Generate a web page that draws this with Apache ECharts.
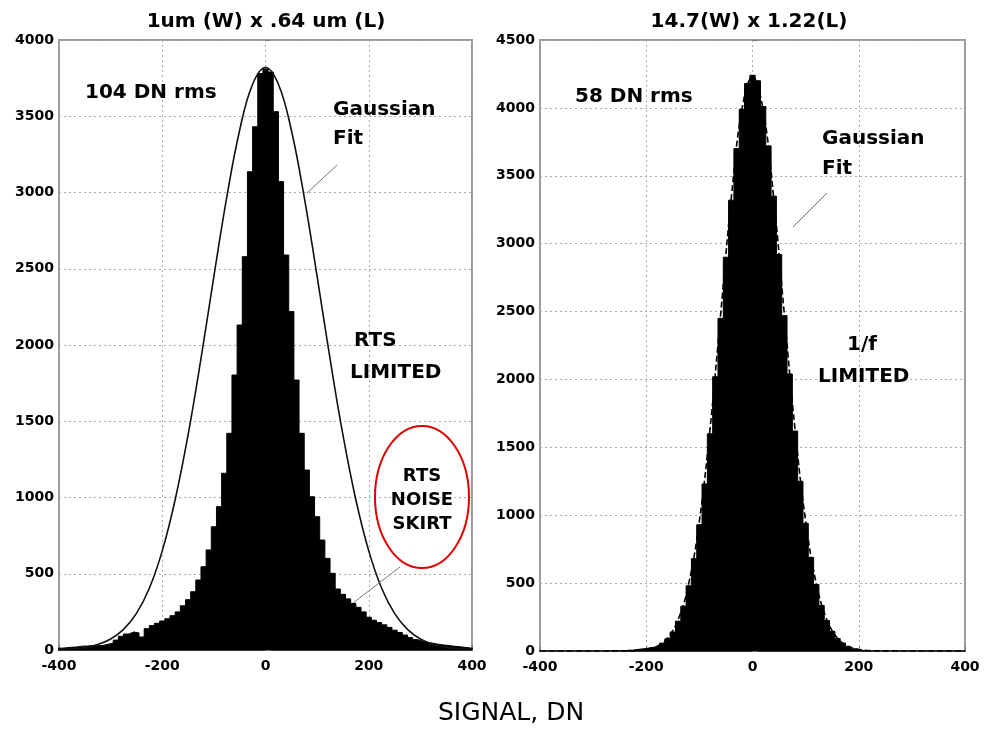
<!DOCTYPE html>
<html>
<head>
<meta charset="utf-8">
<script src="https://cdn.jsdelivr.net/npm/echarts@6/dist/echarts.min.js"></script>
<style>
  html, body { margin: 0; padding: 0; background: #fff; }
  #chart { width: 984px; height: 731px; }
</style>
</head>
<body>
<div id="chart"></div>
<script>
// bin centres (DN), 10 DN wide bins
const leftBins = [-400, -390, -380, -370, -360, -350, -340, -330, -320, -310, -300, -290, -280, -270, -260, -250, -240, -230, -220, -210, -200, -190, -180, -170, -160, -150, -140, -130, -120, -110, -100, -90, -80, -70, -60, -50, -40, -30, -20, -10, 0, 10, 20, 30, 40, 50, 60, 70, 80, 90, 100, 110, 120, 130, 140, 150, 160, 170, 180, 190, 200, 210, 220, 230, 240, 250, 260, 270, 280, 290, 300, 310, 320, 330, 340, 350, 360, 370, 380, 390, 400]
const leftCounts = [12, 15, 18, 20, 25, 26, 28, 28, 30, 38, 45, 65, 90, 105, 118, 112, 85, 140, 160, 175, 190, 205, 225, 250, 290, 330, 382, 459, 546, 656, 808, 940, 1159, 1421, 1803, 2131, 2579, 3136, 3431, 3780, 3810, 3790, 3530, 3071, 2590, 2219, 1770, 1421, 1180, 1005, 874, 721, 601, 503, 400, 365, 335, 305, 280, 250, 215, 195, 180, 165, 148, 130, 115, 98, 82, 68, 56, 50, 44, 38, 33, 30, 25, 22, 18, 14, 10]

const rightBins = [-230, -220, -210, -200, -190, -180, -170, -160, -150, -140, -130, -120, -110, -100, -90, -80, -70, -60, -50, -40, -30, -20, -10, 0, 10, 20, 30, 40, 50, 60, 70, 80, 90, 100, 110, 120, 130, 140, 150, 160, 170, 180, 190, 200, 210]
const rightCounts = [6, 12, 16, 22, 28, 40, 58, 90, 140, 220, 330, 480, 680, 930, 1230, 1600, 2020, 2450, 2900, 3320, 3700, 3990, 4180, 4240, 4200, 4010, 3720, 3350, 2920, 2470, 2040, 1620, 1250, 940, 690, 490, 335, 225, 145, 92, 58, 34, 16, 6, 0]

// gaussian fit curves
const leftFitX = [-400, -375, -350, -325, -300, -275, -250, -225, -200, -175, -150, -125, -100, -75, -50, -25, 0, 25, 50, 75, 100, 125, 150, 175, 200, 225, 250, 275, 300, 325, 350, 375, 400]
const leftFitY = [4, 8, 17, 36, 72, 135, 240, 405, 650, 985, 1410, 1910, 2450, 2970, 3410, 3710, 3820, 3710, 3410, 2970, 2450, 1910, 1410, 985, 650, 405, 240, 135, 72, 36, 17, 8, 4]
const rightFitX = [-400, -300, -260, -240, -220, -200, -180, -160, -140, -120, -100, -80, -60, -40, -20, 0, 20, 40, 60, 80, 100, 120, 140, 160, 180, 200, 220, 240, 260, 300, 400]
const rightFitY = [0, 0, 1, 1, 3, 11, 34, 94, 230, 497, 957, 1634, 2477, 3334, 3986, 4230, 3986, 3334, 2477, 1634, 957, 497, 230, 94, 34, 11, 3, 1, 1, 0, 0]

const xTicks = [-400, 400, 200]
const leftY = [0, 4000, 500]
const rightY = [0, 4500, 500]

const FONT = '"DejaVu Sans", sans-serif'

// histogram as step outline: each point is a bin's left edge
const stepData = (bins, counts) => {
  const half = (bins[1] - bins[0]) / 2
  const pts = bins.map((b, i) => [b - half, counts[i]])
  pts.push([bins[bins.length - 1] + half, counts[counts.length - 1]])
  return pts
}
const pairs = (xs, ys) => xs.map((x, i) => [x, ys[i]])

const labelStyle = {
  color: '#000',
  fontFamily: FONT,
  fontWeight: 'bold',
  fontSize: 14,
  showMinLabel: true,
  showMaxLabel: true,
  formatter: (v) => String(v)
}

const xAxisFor = (idx) => ({
  type: 'value',
  gridIndex: idx,
  min: xTicks[0],
  max: xTicks[1],
  interval: xTicks[2],
  axisLine: { show: true, onZero: false, lineStyle: { color: '#333', width: 2 } },
  axisTick: { inside: true, length: 5, lineStyle: { color: '#777' } },
  axisLabel: { ...labelStyle, margin: 9 },
  splitLine: { show: true, lineStyle: { color: '#aaa', type: [2, 3], width: 1 } }
})
const yAxisFor = (idx, range) => ({
  type: 'value',
  gridIndex: idx,
  min: range[0],
  max: range[1],
  interval: range[2],
  axisLine: { show: false },
  axisTick: { show: true, inside: true, length: 5, lineStyle: { color: '#777' } },
  axisLabel: { ...labelStyle, margin: 5 },
  splitLine: { show: true, lineStyle: { color: '#aaa', type: [2, 3], width: 1 } }
})

const txt = (text, x, y, size, align, weight) => ({
  type: 'text',
  x: x,
  y: y,
  z: 100,
  style: {
    text: text,
    font: (weight || 'bold') + ' ' + size + 'px ' + FONT,
    fill: '#000',
    textAlign: align || 'left',
    textVerticalAlign: 'middle'
  }
})
const lead = (x1, y1, x2, y2) => ({
  type: 'line',
  z: 100,
  shape: { x1, y1, x2, y2 },
  style: { stroke: '#777', lineWidth: 1 }
})

const chart = echarts.init(document.getElementById('chart'))
const option = {
  animation: false,
  backgroundColor: '#fff',
  grid: [
    { left: 59, top: 40, width: 413, height: 610, show: true, borderColor: '#9a9a9a', borderWidth: 2, outerBoundsMode: 'none' },
    { left: 540, top: 40, width: 425, height: 611, show: true, borderColor: '#9a9a9a', borderWidth: 2, outerBoundsMode: 'none' }
  ],
  xAxis: [xAxisFor(0), xAxisFor(1)],
  yAxis: [yAxisFor(0, leftY), yAxisFor(1, rightY)],
  series: [
    {
      type: 'line',
      xAxisIndex: 0,
      yAxisIndex: 0,
      step: 'end',
      symbol: 'none',
      data: stepData(leftBins, leftCounts),
      lineStyle: { color: '#000', width: 1 },
      areaStyle: { color: '#000', opacity: 1 }
    },
    {
      type: 'line',
      xAxisIndex: 0,
      yAxisIndex: 0,
      smooth: 0.4,
      symbol: 'none',
      data: pairs(leftFitX, leftFitY),
      lineStyle: { color: '#111', width: 1.6 }
    },
    {
      type: 'line',
      xAxisIndex: 1,
      yAxisIndex: 1,
      step: 'end',
      symbol: 'none',
      data: stepData(rightBins, rightCounts),
      lineStyle: { color: '#000', width: 1 },
      areaStyle: { color: '#000', opacity: 1 }
    },
    {
      type: 'line',
      xAxisIndex: 1,
      yAxisIndex: 1,
      smooth: 0.4,
      symbol: 'none',
      data: pairs(rightFitX, rightFitY),
      lineStyle: { color: '#000', width: 1.6, type: [6, 3] }
    }
  ],
  graphic: [
    txt('1um (W) x .64 um (L)', 266, 22, 20, 'center'),
    txt('14.7(W) x 1.22(L)', 749, 22, 20, 'center'),
    txt('104 DN rms', 85, 93, 20),
    txt('Gaussian', 333, 110, 20),
    txt('Fit', 333, 139, 20),
    lead(307, 193, 337, 165),
    txt('RTS', 354, 341, 20),
    txt('LIMITED', 350, 373, 20),
    {
      type: 'ellipse',
      z: 100,
      shape: { cx: 422, cy: 497, rx: 47, ry: 71 },
      style: { stroke: '#e00000', fill: null, lineWidth: 2 }
    },
    txt('RTS', 422, 476, 18, 'center'),
    txt('NOISE', 422, 500, 18, 'center'),
    txt('SKIRT', 422, 524, 18, 'center'),
    lead(353, 603, 400, 567),
    txt('58 DN rms', 575, 97, 20),
    txt('Gaussian', 822, 139, 20),
    txt('Fit', 822, 169, 20),
    lead(793, 227, 827, 193),
    txt('1/f', 862, 345, 20, 'center'),
    txt('LIMITED', 818, 377, 20),
    txt('SIGNAL, DN', 511, 713, 25, 'center', 'normal')
  ]
}
chart.setOption(option)
</script>
</body>
</html>
